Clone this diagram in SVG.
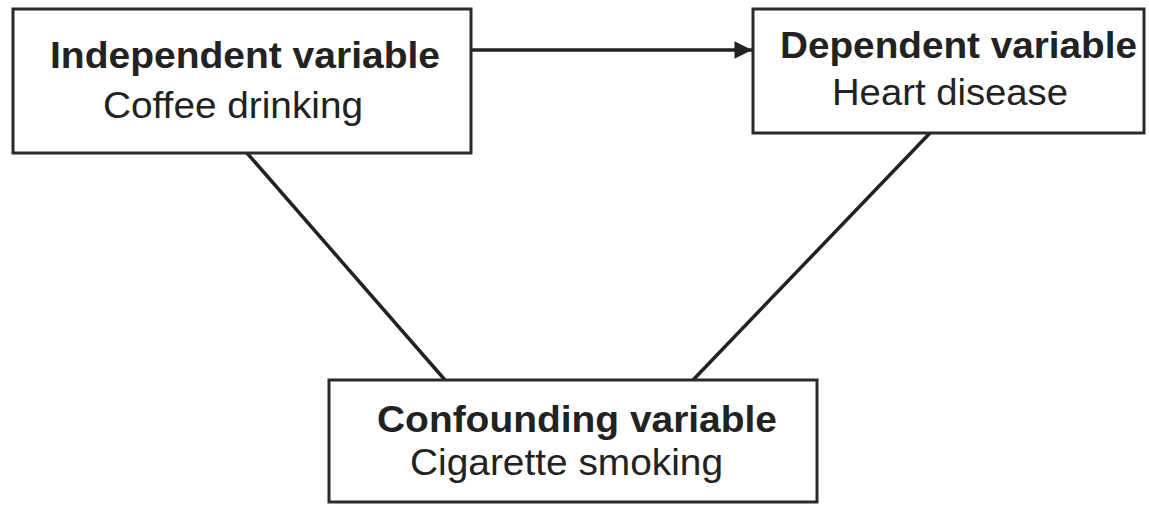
<svg xmlns="http://www.w3.org/2000/svg" width="1149" height="505" viewBox="0 0 1149 505">
<style>
.box{fill:#fff;stroke:#2a2a2a;stroke-width:3}
.t{font-family:"Liberation Sans",Arial,sans-serif;font-size:37px;fill:#222}
.b{font-weight:bold}
.c{stroke:#222;stroke-width:3.5;fill:none}
</style>
<defs>
<marker id="ah" viewBox="0 0 10 10" refX="10" refY="5" markerWidth="6.5" markerHeight="5" markerUnits="strokeWidth" orient="auto">
<path d="M0,0 L10,5 L0,10 z" fill="#222"/>
</marker>
</defs>
<rect width="1149" height="505" fill="#fff"/>
<g id="connectors">
<line class="c" x1="471" y1="50" x2="752" y2="50" marker-end="url(#ah)"/>
<line class="c" x1="247" y1="153" x2="445" y2="380"/>
<line class="c" x1="930" y1="133" x2="693" y2="380"/>
</g>
<g id="independent">
<rect class="box" x="13" y="9" width="458" height="144"/>
<text class="t b" x="50" y="68" textLength="390" lengthAdjust="spacingAndGlyphs">Independent variable</text>
<text class="t" x="103" y="118" textLength="260" lengthAdjust="spacingAndGlyphs">Coffee drinking</text>
</g>
<g id="dependent">
<rect class="box" x="753" y="9" width="391" height="124"/>
<text class="t b" x="780" y="58" textLength="357" lengthAdjust="spacingAndGlyphs">Dependent variable</text>
<text class="t" x="832" y="105" textLength="236" lengthAdjust="spacingAndGlyphs">Heart disease</text>
</g>
<g id="confounding">
<rect class="box" x="329" y="380" width="488" height="122"/>
<text class="t b" x="377" y="432" textLength="400" lengthAdjust="spacingAndGlyphs">Confounding variable</text>
<text class="t" x="410" y="475" textLength="313" lengthAdjust="spacingAndGlyphs">Cigarette smoking</text>
</g>
</svg>
